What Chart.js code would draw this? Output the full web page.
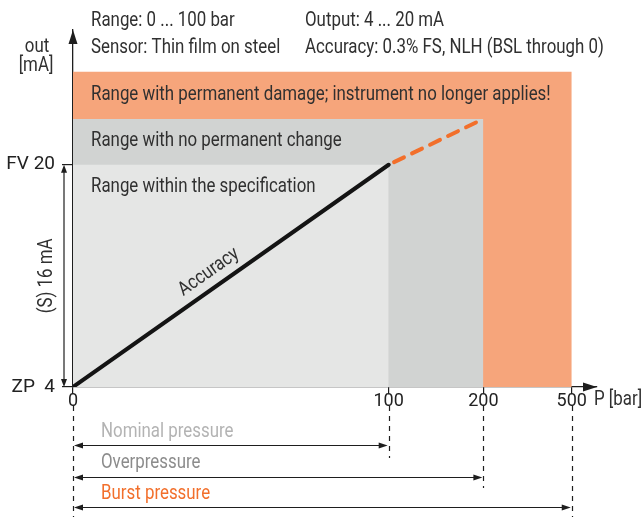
<!DOCTYPE html>
<html>
<head>
<meta charset="utf-8">
<script src="https://cdn.jsdelivr.net/npm/chart.js@4.4.1/dist/chart.umd.min.js"></script>
<style>
  html, body { margin: 0; padding: 0; background: #fff; }
  #wrap { width: 642px; height: 517px; }
</style>
</head>
<body>
<div id="wrap"><canvas id="diagram"></canvas></div>
<script>
// Pressure axis is schematic: each pressure mark sits at a compressed axis position
const pressureTicks = [0, 100, 200, 500];          // bar
const pressureAxisPos = [0, 100, 130, 158];        // axis units along P
const outputTicks = [4, 20];                       // mA
const outputTickLabels = ['ZP  4', 'FV 20'];

// characteristic curve
const accuracyP = [0, 100];
const accuracyMA = [4, 20];
const overloadP = [100, 200];
const overloadMA = [20, 23.3];

// operating zones, drawn back to front
const zoneNames = [
  'Range with permanent damage; instrument no longer applies!',
  'Range with no permanent change',
  'Range within the specification'
];
const zoneMaxP = [500, 200, 100];
const zoneTopMA = [26.7, 23.3, 20];
const zoneColors = ['#f6a57b', '#d1d3d2', '#e5e6e5'];

// pressure spans below the axis
const spanNames = ['Nominal pressure', 'Overpressure', 'Burst pressure'];
const spanEndP = [100, 200, 500];
const spanColors = ['#b3b3b3', '#8c8c8c', '#f26f2b'];

const headerLines = [
  ['Range: 0 ... 100 bar', 'Output: 4 ... 20 mA'],
  ['Sensor: Thin film on steel', 'Accuracy: 0.3% FS, NLH (BSL through 0)']
];

const FONT = "Roboto, 'Liberation Sans', sans-serif";
const INK = '#303030';
const SX = 0.865;   // horizontal condensing of the free text

function toAxis(p) {
  for (let i = 1; i < pressureTicks.length; i++) {
    if (p <= pressureTicks[i]) {
      const a = pressureTicks[i - 1], b = pressureTicks[i];
      const t = (p - a) / (b - a);
      return pressureAxisPos[i - 1] + t * (pressureAxisPos[i] - pressureAxisPos[i - 1]);
    }
  }
  return pressureAxisPos[pressureAxisPos.length - 1];
}

const zoneDatasets = zoneNames.map((name, i) => ({
  label: name,
  data: [{ x: 0, y: zoneTopMA[i] }, { x: toAxis(zoneMaxP[i]), y: zoneTopMA[i] }],
  showLine: true,
  borderWidth: 0,
  borderColor: 'rgba(0,0,0,0)',
  pointRadius: 0,
  backgroundColor: zoneColors[i],
  fill: 'start',
  order: 10 - i
}));

function arrowHead(ctx, x, y, angle, len, half) {
  ctx.save();
  ctx.translate(x, y);
  ctx.rotate(angle);
  ctx.beginPath();
  ctx.moveTo(0, 0);
  ctx.lineTo(-len, -half);
  ctx.lineTo(-len, half);
  ctx.closePath();
  ctx.fill();
  ctx.restore();
}

// text with a narrow face look
function text(ctx, str, x, y, align, rot) {
  ctx.save();
  ctx.translate(x, y);
  if (rot) ctx.rotate(rot);
  ctx.scale(SX, 1);
  ctx.textAlign = align || 'left';
  ctx.fillText(str, 0, 0);
  ctx.restore();
}

const annotations = {
  id: 'annotations',
  afterDraw(chart) {
    const { ctx, chartArea: a, scales: { x, y } } = chart;
    ctx.save();
    ctx.fillStyle = '#1e1e1e';
    ctx.strokeStyle = '#1e1e1e';

    // axis arrows
    arrowHead(ctx, a.right, y.getPixelForValue(4), 0, 14, 4.5);
    arrowHead(ctx, x.getPixelForValue(0), a.top, -Math.PI / 2, 14, 4.5);

    ctx.font = '19.5px ' + FONT;
    ctx.textBaseline = 'middle';

    // header text
    ctx.fillStyle = INK;
    headerLines.forEach((row, r) => {
      text(ctx, row[0], 91, 21 + r * 27);
      text(ctx, row[1], 305, 21 + r * 27);
    });

    // axis titles
    text(ctx, 'out', 37, 47, 'center');
    text(ctx, '[mA]', 36, 66, 'center');
    text(ctx, 'P [bar]', 594, 400);

    // zone captions
    const zoneCaptionY = [95, 141, 187];
    zoneNames.forEach((name, i) => text(ctx, name, 91, zoneCaptionY[i]));

    // span of the output signal
    const y4 = y.getPixelForValue(outputTicks[0]);
    const y20 = y.getPixelForValue(outputTicks[1]);
    ctx.fillStyle = '#1e1e1e';
    ctx.lineWidth = 1.2;
    ctx.beginPath();
    ctx.moveTo(64, y20 + 4);
    ctx.lineTo(64, y4 - 4);
    ctx.stroke();
    arrowHead(ctx, 64, y20, -Math.PI / 2, 8, 3);
    arrowHead(ctx, 64, y4, Math.PI / 2, 8, 3);
    ctx.fillStyle = INK;
    text(ctx, '(S) 16 mA', 47, (y4 + y20) / 2, 'center', -Math.PI / 2);

    // label along the accuracy line
    const x0 = x.getPixelForValue(toAxis(accuracyP[0]));
    const x1 = x.getPixelForValue(toAxis(accuracyP[1]));
    const ang = Math.atan2(y20 - y4, x1 - x0);
    text(ctx, 'Accuracy', x0 + (x1 - x0) * 0.44 - 3, y4 + (y20 - y4) * 0.44 - 17, 'center', ang);

    // dashed guides under the pressure marks
    const guideTop = 406;
    const guideBottom = [517, 458, 488, 517];
    ctx.strokeStyle = '#1e1e1e';
    ctx.lineWidth = 1.2;
    ctx.setLineDash([5, 5]);
    pressureTicks.forEach((p, i) => {
      const px = Math.round(x.getPixelForValue(toAxis(p))) + 0.5;
      ctx.beginPath();
      ctx.moveTo(px, guideTop);
      ctx.lineTo(px, guideBottom[i]);
      ctx.stroke();
    });
    ctx.setLineDash([]);

    // pressure spans with double arrows
    const spanTextY = [432, 463, 494];
    const spanArrowY = [445.5, 477.5, 507.5];
    const xs = x.getPixelForValue(0);
    spanNames.forEach((name, i) => {
      const xe = x.getPixelForValue(toAxis(spanEndP[i]));
      ctx.fillStyle = spanColors[i];
      text(ctx, name, 101, spanTextY[i]);
      ctx.fillStyle = '#1e1e1e';
      ctx.beginPath();
      ctx.moveTo(xs + 4, spanArrowY[i]);
      ctx.lineTo(xe - 4, spanArrowY[i]);
      ctx.stroke();
      arrowHead(ctx, xs + 1, spanArrowY[i], Math.PI, 9, 3);
      arrowHead(ctx, xe - 1, spanArrowY[i], 0, 9, 3);
    });

    ctx.restore();
  }
};

Chart.defaults.font.family = FONT;
Chart.defaults.font.size = 19;
Chart.defaults.color = INK;

new Chart(document.getElementById('diagram'), {
  type: 'scatter',
  data: {
    datasets: [
      ...zoneDatasets,
      {
        label: 'Accuracy',
        data: accuracyP.map((p, i) => ({ x: toAxis(p), y: accuracyMA[i] })),
        showLine: true,
        borderColor: '#141414',
        borderWidth: 4,
        borderCapStyle: 'round',
        pointRadius: 0,
        order: 1
      },
      {
        label: 'Overload',
        data: overloadP.map((p, i) => ({ x: toAxis(p), y: overloadMA[i] })),
        showLine: true,
        borderColor: '#f26f2b',
        borderWidth: 4,
        borderDash: [11, 9],
        borderDashOffset: -6,
        borderCapStyle: 'round',
        pointRadius: 0,
        order: 2
      }
    ]
  },
  options: {
    responsive: true,
    maintainAspectRatio: false,
    animation: false,
    layout: { padding: { top: 30, right: 45, left: 0, bottom: 0 } },
    plugins: {
      legend: { display: false },
      tooltip: { enabled: false }
    },
    scales: {
      x: {
        type: 'linear',
        min: 0,
        max: 166,
        afterFit: (s) => { s.height = 130; },
        afterBuildTicks: (s) => { s.ticks = pressureAxisPos.map(v => ({ value: v })); },
        ticks: {
          color: '#222',
          font: { size: 18 },
          padding: -3,
          maxRotation: 0,
          autoSkip: false,
          callback: (v, i) => String(pressureTicks[i])
        },
        grid: { drawOnChartArea: false, drawTicks: true, tickLength: 7, color: '#1e1e1e', lineWidth: 1.2 },
        border: { display: true, color: '#1e1e1e', width: 1.3 }
      },
      y: {
        type: 'linear',
        min: 4,
        max: 29.7,
        afterFit: (s) => { s.width = 73; },
        afterBuildTicks: (s) => { s.ticks = outputTicks.map(v => ({ value: v })); },
        ticks: {
          color: '#222',
          padding: 7,
          autoSkip: false,
          callback: (v, i) => outputTickLabels[i]
        },
        grid: { drawOnChartArea: false, drawTicks: true, tickLength: 11, color: '#1e1e1e', lineWidth: 1.2 },
        border: { display: true, color: '#1e1e1e', width: 1.3 }
      }
    }
  },
  plugins: [annotations]
});
</script>
</body>
</html>
